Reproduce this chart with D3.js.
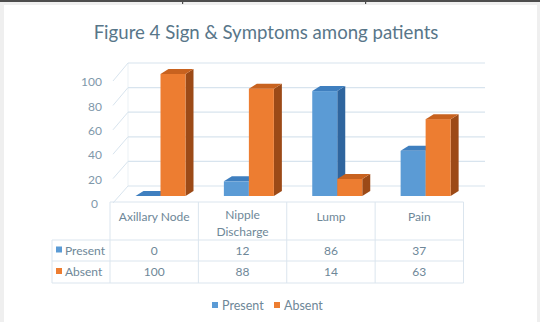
<!DOCTYPE html>
<html><head><meta charset="utf-8">
<script src="https://cdn.jsdelivr.net/npm/d3@7"></script>
<style>html,body{margin:0;padding:0;background:#efefef;overflow:hidden}</style>
</head><body>
<svg id="c" width="540" height="322"></svg>
<script>
const categories = ["Axillary Node", "Nipple\nDischarge", "Lump", "Pain"];
const seriesNames = ["Present", "Absent"];
const presentValues = [0, 12, 86, 37];
const absentValues = [100, 88, 14, 63];
const yTicks = [0, 20, 40, 60, 80, 100];
const titleText = "Figure 4 Sign & Symptoms among patients";

const values = [presentValues, absentValues];
const colors = {
  front: ["#5b9bd5", "#ed7d31"],
  top: ["#3f7fbf", "#c8621f"],
  side: ["#2f659e", "#9c4a17"]
};
const txt = "#6e8798";
const grid = "#d8e4ee";
const font = "Lato, 'Open Sans', sans-serif";

const svg = d3.select("#c");
// page frame
svg.append("rect").attr("x", 4).attr("y", 5).attr("width", 533).attr("height", 317).attr("fill", "#ffffff");
svg.append("rect").attr("x", 0).attr("y", 0).attr("width", 540).attr("height", 2).attr("fill", "#4d4d4d");
[182, 365].forEach(x => svg.append("rect").attr("x", x).attr("y", 0).attr("width", 1.2).attr("height", 4).attr("fill", "#4d4d4d"));

// title
const title = svg.append("text").attr("x", 266).attr("y", 39).attr("text-anchor", "middle")
  .attr("font-family", font).attr("font-size", 18).attr("fill", "#587689").text(titleText);
const tw = title.node().getComputedTextLength();
title.attr("font-size", 18 * 345 / tw);

// scales
const x0 = d3.scaleBand().domain(categories).range([110, 463.5]).paddingInner(0);
const x1 = d3.scaleBand().domain(seriesNames).range([25.5, 75.5]);
const yFront = d3.scaleLinear().domain([0, 100]).range([196, 74]);
const yBack = d3.scaleLinear().domain([0, 100]).range([186, 63]);
const yEdge = d3.scaleLinear().domain([0, 100]).range([203, 81]);
const yLab = d3.scaleLinear().domain([0, 100]).range([204, 82]);
const backX = [128, 485];
const edgeX = 113;
const dx = 8, dy = -5;

// gridlines on back wall and side wall
const g = svg.append("g");
yTicks.forEach(v => {
  g.append("line").attr("x1", backX[0]).attr("x2", backX[1]).attr("y1", yBack(v)).attr("y2", yBack(v))
    .attr("stroke", grid).attr("stroke-width", 1.2);
  g.append("line").attr("x1", edgeX).attr("x2", backX[0]).attr("y1", yEdge(v)).attr("y2", yBack(v))
    .attr("stroke", grid).attr("stroke-width", 1);
});
g.append("line").attr("x1", backX[0]).attr("x2", backX[0]).attr("y1", yBack(0)).attr("y2", yBack(100))
  .attr("stroke", grid).attr("stroke-width", 0.8).attr("opacity", 0.6);

// y labels
svg.append("g").selectAll("text").data(yTicks).join("text")
  .attr("x", d => d === 0 ? 98 : 102).attr("y", d => yLab(d)).attr("dy", "0.35em")
  .attr("text-anchor", "end").attr("font-family", font).attr("font-size", 12).attr("fill", "#7f98aa")
  .text(d => d);

// bars
const bars = svg.append("g");
categories.forEach((c, ci) => {
  seriesNames.forEach((s, si) => {
    const v = values[si][ci];
    const x = x0(c) + x1(s), w = x1.bandwidth();
    const yt = yFront(v), yb = yFront(0);
    // side
    bars.append("path").attr("d", `M${x + w},${yt}L${x + w + dx},${yt + dy}L${x + w + dx},${yb + dy}L${x + w},${yb}Z`)
      .attr("fill", colors.side[si]);
    // front
    bars.append("rect").attr("x", x).attr("y", yt).attr("width", w).attr("height", yb - yt)
      .attr("fill", colors.front[si]);
    // top
    bars.append("path").attr("d", `M${x},${yt}L${x + w},${yt}L${x + w + dx},${yt + dy}L${x + dx},${yt + dy}Z`)
      .attr("fill", colors.top[si]);
  });
});

// data table
const tLeft = 52, rowY = [240, 261, 283], headTop = 202;
const t = svg.append("g");
const tl = "#dbe5ee";
rowY.forEach(y => t.append("line").attr("x1", tLeft).attr("x2", x0.range()[1]).attr("y1", y).attr("y2", y).attr("stroke", tl));
categories.concat([null]).forEach((c, i) => {
  const x = c === null ? x0.range()[1] : x0(c);
  t.append("line").attr("x1", x).attr("x2", x).attr("y1", headTop).attr("y2", rowY[2]).attr("stroke", tl);
});
t.append("line").attr("x1", tLeft).attr("x2", tLeft).attr("y1", rowY[0]).attr("y2", rowY[2]).attr("stroke", tl);
t.append("line").attr("x1", x0.range()[0]).attr("x2", x0.range()[1]).attr("y1", headTop).attr("y2", headTop).attr("stroke", tl);

categories.forEach(c => {
  const lines = c.split("\n");
  const te = t.append("text").attr("x", x0(c) + x0.bandwidth() / 2).attr("y", 221)
    .attr("text-anchor", "middle").attr("font-family", font).attr("font-size", 12).attr("fill", txt);
  lines.forEach((l, i) => te.append("tspan").attr("x", x0(c) + x0.bandwidth() / 2).attr("dy", i === 0 ? (lines.length > 1 ? -2 : 0) : 17).text(l));
});
seriesNames.forEach((s, si) => {
  const cy = (rowY[si] + rowY[si + 1]) / 2;
  t.append("rect").attr("x", 56).attr("y", cy - 4).attr("width", 6).attr("height", 6).attr("fill", colors.front[si]);
  t.append("text").attr("x", 65).attr("y", cy).attr("dy", "0.35em").attr("font-family", font).attr("font-size", 12)
    .attr("fill", txt).text(s);
  categories.forEach((c, ci) => {
    t.append("text").attr("x", x0(c) + x0.bandwidth() / 2).attr("y", cy).attr("dy", "0.35em")
      .attr("text-anchor", "middle").attr("font-family", font).attr("font-size", 12).attr("fill", txt)
      .text(values[si][ci]);
  });
});

// bottom legend
const leg = svg.append("g");
const legX = [212, 274];
seriesNames.forEach((s, si) => {
  leg.append("rect").attr("x", legX[si]).attr("y", 302).attr("width", 6).attr("height", 6).attr("fill", colors.front[si]);
  leg.append("text").attr("x", legX[si] + 10).attr("y", 306).attr("dy", "0.35em").attr("font-family", font)
    .attr("font-size", 12.5).attr("fill", txt).text(s);
});
</script>
</body></html>
